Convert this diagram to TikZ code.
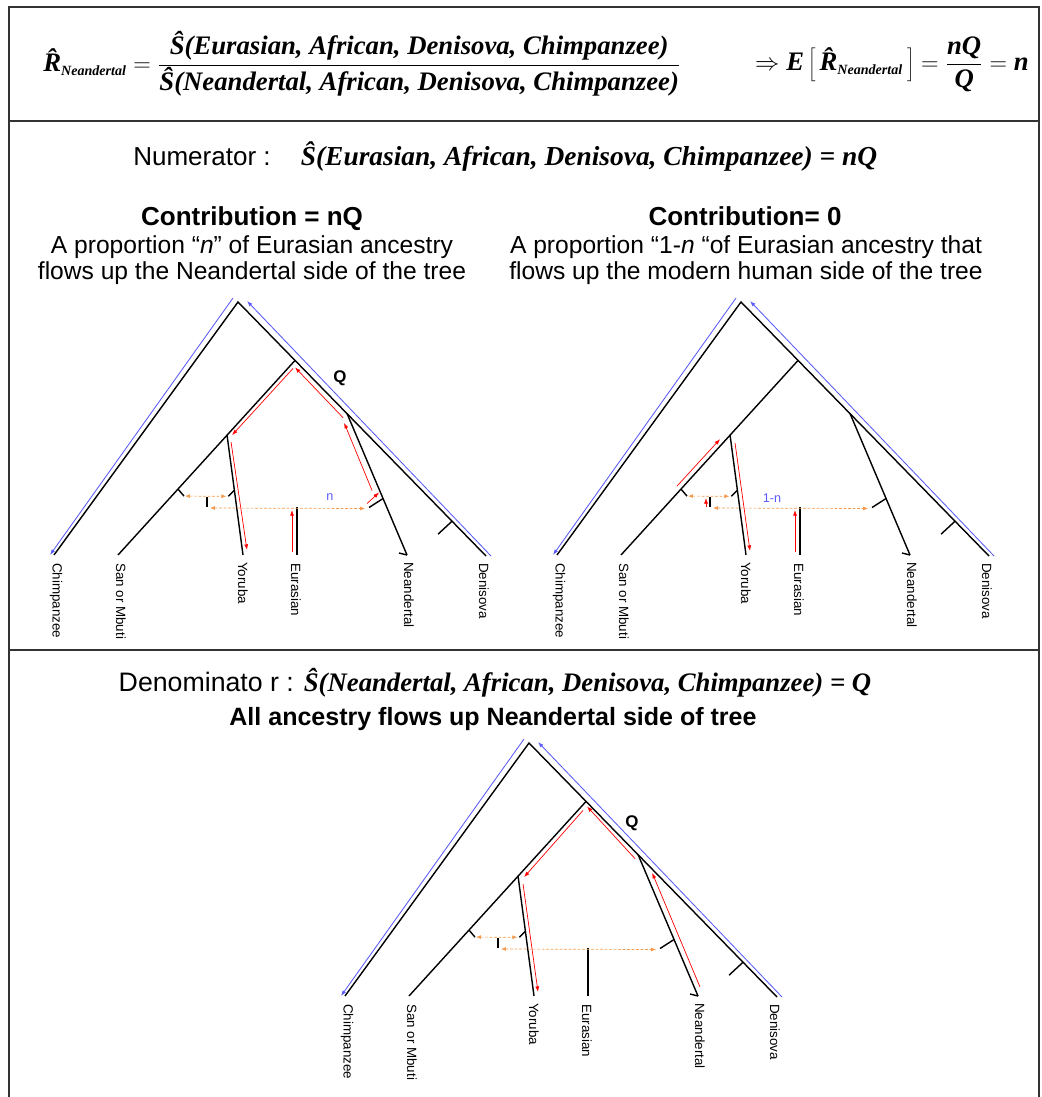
\documentclass[tikz,border=0pt]{standalone}
\usepackage{fontspec}
\setmainfont{Liberation Sans}
\newfontfamily\tnr{Liberation Serif}
\usetikzlibrary{arrows.meta,calc}

\definecolor{mixorange}{RGB}{244,154,76}
\definecolor{outblue}{RGB}{90,90,250}

\newcommand\bfit{\tnr\bfseries\itshape}
\newcommand\Rhat{\mbox{R^^^^0302}_{\mbox{\fontsize{10}{10}\selectfont Neandertal}}}

\tikzset{
  branch/.style={line width=1pt},
  flow/.style={red, line width=0.5pt, -{Latex[length=4pt,width=2.8pt]}},
  outflow/.style={outblue, line width=0.6pt, -{Latex[length=4pt,width=2.8pt]}},
  mix/.style={mixorange, line width=0.5pt, dash pattern=on 2pt off 1.2pt,
    {Latex[length=3.5pt,width=2.8pt]}-{Latex[length=3.5pt,width=2.8pt]}},
  leaf/.style={rotate=-90, anchor=west, inner sep=0pt, font=\fontsize{9.5}{10}\selectfont},
  qlabel/.style={font=\bfseries\fontsize{12}{12}\selectfont},
  fraclabel/.style={outblue, font=\fontsize{9}{9}\selectfont},
  frame/.style={line width=1.4pt, black!80},
}

% one tree; #1 = prefix of the names, #2 = shift
\newcommand\speciestree[2]{%
  \begin{scope}[shift={#2}]
    \coordinate (#1-root) at (238,302);
    \coordinate (#1-chimp) at (54,555);
    \coordinate (#1-deni) at (486,556);
    \coordinate (#1-san) at (118,555);
    \coordinate (#1-yor) at (243,555);
    \coordinate (#1-nea) at (407,555);
    \coordinate (#1-eur) at (297,555);
    \coordinate (#1-eurtop) at (297,507);
    \coordinate (#1-tkI) at (207,497);
  \end{scope}
  \coordinate (#1-n1) at ($(#1-root)!0.23!(#1-deni)$);
  \coordinate (#1-n3) at ($(#1-root)!0.44!(#1-deni)$);
  \coordinate (#1-n2) at ($(#1-n1)!0.384!(#1-san)$);
  \coordinate (#1-tkS) at ($(#1-n2)!0.45!(#1-san)$);
  \coordinate (#1-tkY) at ($(#1-n2)!0.46!(#1-yor)$);
  \coordinate (#1-tkN) at ($(#1-n3)!0.6!(#1-nea)$);
  \coordinate (#1-tkD) at ($(#1-root)!0.863!(#1-deni)$);
  % branches
  \draw[branch] (#1-chimp) -- (#1-root) -- (#1-deni);
  \draw[branch] (#1-n1) -- (#1-san);
  \draw[branch] (#1-n2) -- (#1-yor);
  \draw[branch] (#1-n3) -- (#1-nea);
  \draw[branch] (#1-eurtop) -- (#1-eur);
  % admixture ticks
  \draw[branch] (#1-tkS) -- ++(6,7);
  \draw[branch] (#1-tkY) -- ++(-6,6);
  \draw[branch] (#1-tkI) -- ++(0,10);
  \draw[branch] (#1-tkN) -- ++(-14,9);
  \draw[branch] (#1-tkD) -- ++(-14,13);
  \draw[branch] (#1-nea) -- ++(-8,-2);
  % outgroup
  \draw[outflow] ($(#1-root)+(-5,-4)$) -- ($(#1-chimp)+(-4,0)$);
  \draw[outflow] ($(#1-deni)+(5,0)$) -- ($(#1-root)+(9,-1)$);
  % gene flow
  \draw[mix] ($(#1-tkS)+(7,7)$) -- ($(#1-tkY)+(-8,6)$);
  \draw[mix] ($(#1-tkI)+(3,11)$) -- ($(#1-tkN)+(-18,10)$);
  % leaves
  \node[leaf] (#1-chimp-lab) at ($(#1-chimp)+(2,8)$) {Chimpanzee};
  \node[leaf] (#1-san-lab) at ($(#1-san)+(3,8)$) {San or Mbuti};
  \node[leaf] (#1-yor-lab) at ($(#1-yor)+(0,7)$) {Yoruba};
  \node[leaf] (#1-eur-lab) at ($(#1-eur)+(-1,8)$) {Eurasian};
  \node[leaf] (#1-nea-lab) at ($(#1-nea)+(2,7)$) {Neandertal};
  \node[leaf] (#1-deni-lab) at ($(#1-deni)+(-2,7)$) {Denisova};
}

\begin{document}
\begin{tikzpicture}[x=0.025cm, y=-0.025cm]
\useasboundingbox (0,0) rectangle (1041,1097);

% frame
\draw[frame] (9,1097) -- (9,7) -- (1039,7) -- (1039,1097);
\draw[frame] (9,121) -- (1039,121);
\draw[frame] (9,650) -- (1039,650);

% top formula
\node[font=\fontsize{19}{23}\selectfont] (ratio) at (362,64)
  {\bfit $\Rhat = \displaystyle\frac{\mbox{Ŝ(Eurasian, African, Denisova, Chimpanzee)}}{\mbox{Ŝ(Neandertal, African, Denisova, Chimpanzee)}}$};
\node[font=\fontsize{19}{23}\selectfont] (expect) at (892,64)
  {\bfit $\Rightarrow \mbox{E}\left[\,\Rhat\,\right] = \displaystyle\frac{\mbox{nQ}}{\mbox{Q}} = \mbox{n}$};

% numerator
\node[font=\fontsize{18.5}{22}\selectfont, anchor=base] (numlab) at (202,165) {Numerator :};
\node[font=\fontsize{19.5}{22}\selectfont, anchor=base] (numexpr) at (589,165)
  {\bfit Ŝ(Eurasian, African, Denisova, Chimpanzee) = nQ};

\node[font=\bfseries\fontsize{18.5}{22}\selectfont, anchor=base] (contribL) at (252,225) {Contribution = nQ};
\node[font=\fontsize{17.5}{18.5}\selectfont, align=center] (textL) at (252,260)
  {A proportion “\textit{n}” of Eurasian ancestry\\flows up the Neandertal side of the tree};
\node[font=\bfseries\fontsize{18.5}{22}\selectfont, anchor=base] (contribR) at (745,225) {Contribution= 0};
\node[font=\fontsize{17.5}{18.5}\selectfont, align=center] (textR) at (746,260)
  {A proportion “1-\textit{n} “of Eurasian ancestry that\\flows up the modern human side of the tree};

% trees
\speciestree{L}{(0,0)}
\speciestree{R}{(503,0)}
\speciestree{D}{(291,441)}

% left tree: n of the Eurasian ancestry
\node[qlabel] (L-q) at (340,378) {Q};
\node[fraclabel] (L-n) at (330,497) {n};
\draw[flow] ($(L-eur)+(-5,-3)$) -- ($(L-eurtop)+(-5,3)$);
\draw[flow] ($(L-tkN)+(-16,5)$) -- ($(L-tkN)+(-4,-6)$);
\draw[flow] ($(L-tkN)+(-11,-8)$) -- ($(L-n3)+(-3,9)$);
\draw[flow] ($(L-n3)+(-4,4)$) -- ($(L-n1)+(0,7)$);
\draw[flow] ($(L-n1)+(-2,8)$) -- ($(L-n2)+(5,0)$);
\draw[flow] ($(L-n2)+(4,7)$) -- ($(L-yor)+(4,-5)$);

% right tree: 1-n of the Eurasian ancestry
\node[fraclabel] (R-n) at (772,498) {1-n};
\draw[flow] ($(R-eur)+(-5,-3)$) -- ($(R-eurtop)+(-5,3)$);
\draw[flow] ($(R-tkI)+(-4,10)$) -- ($(R-tkI)+(-4,1)$);
\draw[flow] ($(R-tkS)+(-4,-3)$) -- ($(R-n2)+(-10,4)$);
\draw[flow] ($(R-n2)+(5,8)$) -- ($(R-yor)+(4,-4)$);

% denominator
\node[font=\fontsize{19}{22}\selectfont, anchor=base] (denom) at (495,691)
  {Denominato r : {\bfit Ŝ(Neandertal, African, Denisova, Chimpanzee) = Q}};
\node[font=\bfseries\fontsize{17.8}{22}\selectfont, anchor=base] (alltext) at (493,725)
  {All ancestry flows up Neandertal side of tree};

\node[qlabel] (D-q) at (632,823) {Q};
\draw[flow] ($(D-n2)+(5,8)$) -- ($(D-yor)+(4,-4)$);
\draw[flow] ($(D-n1)+(-3,9)$) -- ($(D-n2)+(6,1)$);
\draw[flow] ($(D-n3)+(-3,4)$) -- ($(D-n1)+(1,5)$);
\draw[flow] ($(D-nea)+(2,-9)$) -- ($(D-n3)+(14,18)$);
\end{tikzpicture}
\end{document}
